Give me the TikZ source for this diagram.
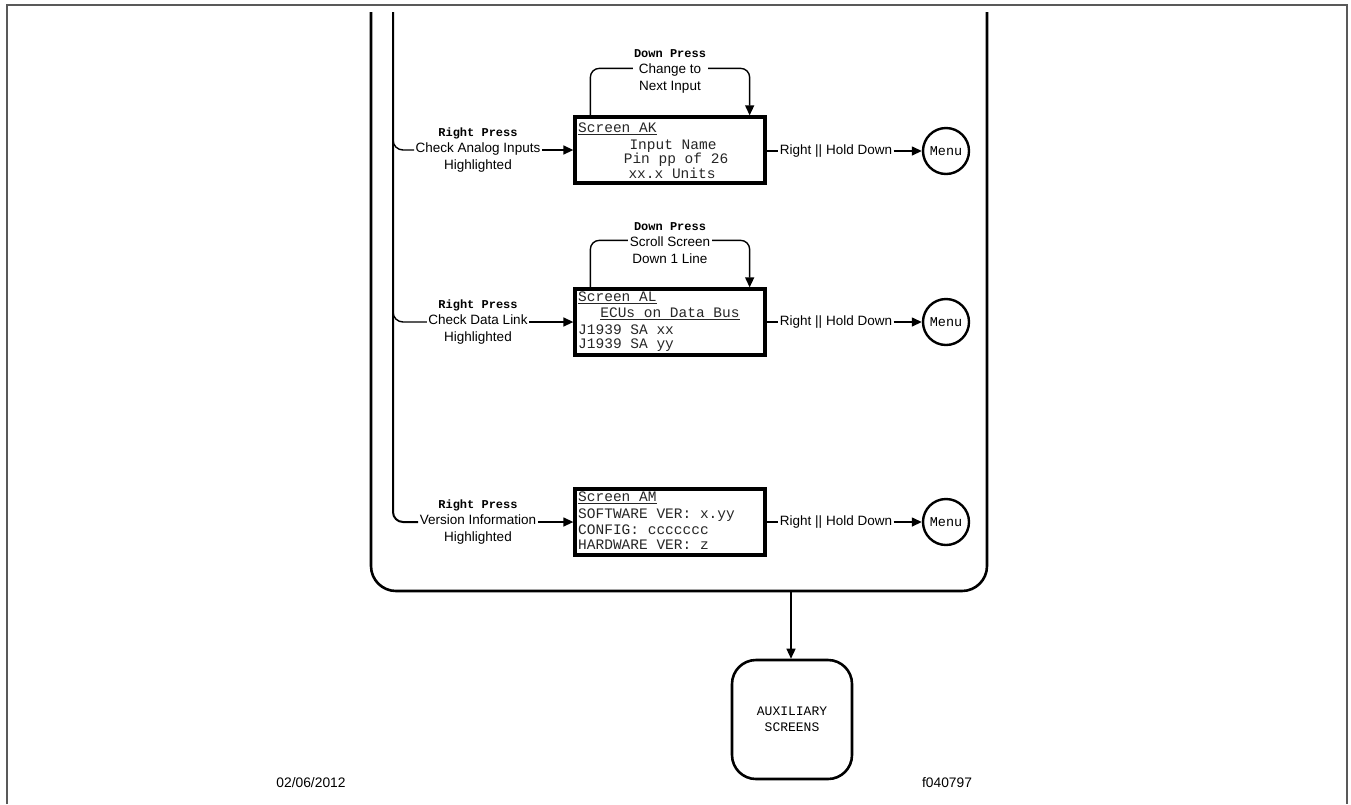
\documentclass[tikz,border=0pt]{standalone}
\usepackage{fontspec}
\setmainfont{Liberation Sans}
\newfontfamily\monof{Liberation Mono}
\usetikzlibrary{arrows.meta,calc}
\newcommand{\bmono}{\monof\bfseries\fontsize{12pt}{16pt}\selectfont}
\begin{document}
\begin{tikzpicture}[x=1pt,y=-1pt,
  conn/.style={line width=1.4pt},
  arr/.style={conn,-{Triangle[length=10pt,width=9pt]}},
  heavy/.style={line width=2.6pt},
  scrbox/.style={draw,line width=3.3pt,minimum width=190pt,minimum height=66pt,inner sep=0pt},
  scrtxt/.style={font=\monof\fontsize{14.5pt}{16pt}\selectfont,inner sep=0pt,text=black!85},
  lbl/.style={font=\fontsize{13.5pt}{16.5pt}\selectfont,align=center,inner xsep=1.5pt,inner ysep=0pt,fill=white},
  menunode/.style={draw,circle,line width=2.4pt,minimum size=46pt,inner sep=0pt,font=\monof\fontsize{13.5pt}{16pt}\selectfont},
  foot/.style={font=\fontsize{13.8pt}{16pt}\selectfont,inner sep=0pt}
]
\useasboundingbox (0,0) rectangle (1351,804);
% page frame
\draw[line width=2pt,black!65] (7,804) -- (7,5) -- (1347,5) -- (1347,804);

% container
\draw[heavy,rounded corners=25pt] (371,12) -- (371,591) -- (987,591) -- (987,12);
\coordinate (contb) at (791,591);
\coordinate (trunktop) at (393,12);

% screens
\node[scrbox] (ak) at (670,150) {};
\node[scrbox] (al) at (670,322) {};
\node[scrbox] (am) at (670,522) {};

% screen AK contents
\node[scrtxt,anchor=west] (ak1) at (578,129) {\underline{Screen AK}};
\node[scrtxt] (ak2) at (673,146) {Input Name};
\node[scrtxt] (ak3) at (676,160) {Pin pp of 26};
\node[scrtxt] (ak4) at (672,173) {xx.x Units};
% screen AL contents
\node[scrtxt,anchor=west] (al1) at (578,298) {\underline{Screen AL}};
\node[scrtxt] (al2) at (670,314) {\underline{ECUs on Data Bus}};
\node[scrtxt,anchor=west] (al3) at (578,330) {J1939 SA xx};
\node[scrtxt,anchor=west] (al4) at (578,345) {J1939 SA yy};
% screen AM contents
\node[scrtxt,anchor=west] (am1) at (578,498) {\underline{Screen AM}};
\node[scrtxt,anchor=west] (am2) at (578,515) {SOFTWARE VER: x.yy};
\node[scrtxt,anchor=west] (am3) at (578,530) {CONFIG: ccccccc};
\node[scrtxt,anchor=west] (am4) at (578,545) {HARDWARE VER: z};

% left labels
\node[lbl] (lak) at (478,150) {{\bmono Right Press}\\Check Analog Inputs\\Highlighted};
\node[lbl] (lal) at (478,322) {{\bmono Right Press}\\Check Data Link\\Highlighted};
\node[lbl] (lam) at (478,522) {{\bmono Right Press}\\Version Information\\Highlighted};

% trunk and branches
\draw[line width=2pt,rounded corners=10pt] (trunktop) -- (393,522) -- (lam.west);
\draw[conn,rounded corners=10pt] (393,130) -- (393,150) -- (lak.west);
\draw[conn,rounded corners=10pt] (393,300) -- (393,322) -- (lal.west);
\draw[arr] (lak.east) -- (ak.west);
\draw[arr] (lal.east) -- (al.west);
\draw[arr] (lam.east) -- (am.west);

% loops
\draw[arr,rounded corners=9pt] ([xshift=17pt]ak.north west) -- ++(0,-47) -| ([xshift=-17pt]ak.north east);
\node[lbl] (loopak) at (670,71) {{\bmono Down Press}\\Change to\\Next Input};
\draw[arr,rounded corners=9pt] ([xshift=17pt]al.north west) -- ++(0,-47) -| ([xshift=-17pt]al.north east);
\node[lbl] (loopal) at (670,243) {{\bmono Down Press}\\Scroll Screen\\Down 1 Line};

% right side
\node[menunode] (mak) at (946,151) {Menu};
\node[menunode] (mal) at (946,322) {Menu};
\node[menunode] (mam) at (946,522) {Menu};
\node[lbl] (rak) at (836,151) {Right || Hold Down};
\node[lbl] (ral) at (836,322) {Right || Hold Down};
\node[lbl] (ram) at (836,522) {Right || Hold Down};
\draw[conn] (ak.east |- rak.west) -- (rak.west);
\draw[arr] (rak.east) -- (mak.west);
\draw[conn] (al.east |- ral.west) -- (ral.west);
\draw[arr] (ral.east) -- (mal.west);
\draw[conn] (am.east |- ram.west) -- (ram.west);
\draw[arr] (ram.east) -- (mam.west);

% auxiliary
\node[draw,line width=2.6pt,rounded corners=24pt,minimum width=120pt,minimum height=119pt,align=center,
  font=\monof\fontsize{13pt}{16pt}\selectfont] (aux) at (792,719.5) {AUXILIARY\\SCREENS};
\draw[arr] (contb) -- (contb |- aux.north);

% footer
\node[foot] (date) at (311,783) {02/06/2012};
\node[foot] (fig) at (947,783) {f040797};
\end{tikzpicture}
\end{document}
